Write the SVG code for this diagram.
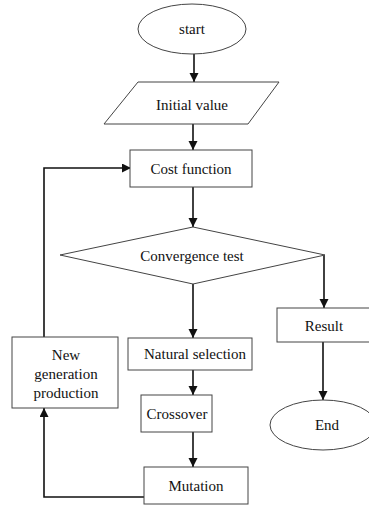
<svg xmlns="http://www.w3.org/2000/svg" width="369" height="507" viewBox="0 0 369 507">
<style>
.shape{fill:#fff;stroke:#444;stroke-width:1}
.lbl{font-family:"Liberation Serif","Times New Roman",serif;font-size:15px;fill:#111;text-anchor:middle}
.conn{fill:none;stroke:#111;stroke-width:1.6}
</style>
<defs>
<marker id="ah" markerUnits="userSpaceOnUse" markerWidth="10" markerHeight="10" refX="9" refY="4.5" orient="auto">
<path d="M0,0 L9,4.5 L0,9 z" fill="#111"/>
</marker>
</defs>
<rect width="369" height="507" fill="#fff"/>
<g id="connectors">
<line class="conn" x1="194" y1="54" x2="194" y2="82" marker-end="url(#ah)"/>
<line class="conn" x1="193" y1="124" x2="193" y2="150" marker-end="url(#ah)"/>
<line class="conn" x1="193" y1="187" x2="193" y2="227" marker-end="url(#ah)"/>
<line class="conn" x1="193" y1="284" x2="193" y2="338" marker-end="url(#ah)"/>
<polyline class="conn" points="324,255 324,308" marker-end="url(#ah)"/>
<line class="conn" x1="323" y1="342" x2="323" y2="400" marker-end="url(#ah)"/>
<line class="conn" x1="193" y1="370" x2="193" y2="395" marker-end="url(#ah)"/>
<line class="conn" x1="193" y1="432" x2="193" y2="467" marker-end="url(#ah)"/>
<polyline class="conn" points="144,497 44,497 44,408" marker-end="url(#ah)"/>
<polyline class="conn" points="44,337 44,168 131,168" marker-end="url(#ah)"/>
</g>
<g id="start">
<ellipse class="shape" cx="192" cy="29" rx="54" ry="25"/>
<text class="lbl" x="192" y="34">start</text>
</g>
<g id="initial">
<polygon class="shape" points="138,82 279,82 248,124 104,124"/>
<text class="lbl" x="192" y="110">Initial value</text>
</g>
<g id="cost">
<rect class="shape" x="130" y="150" width="122" height="37"/>
<text class="lbl" x="191" y="174">Cost function</text>
</g>
<g id="convergence">
<polygon class="shape" points="193,227 325,255 193,284 60,255"/>
<text class="lbl" x="192" y="261">Convergence test</text>
</g>
<g id="result">
<rect class="shape" x="277" y="308" width="95" height="34"/>
<text class="lbl" x="324" y="331">Result</text>
</g>
<g id="end">
<ellipse class="shape" cx="323" cy="425" rx="53" ry="25"/>
<text class="lbl" x="327" y="430">End</text>
</g>
<g id="natural">
<rect class="shape" x="128" y="338" width="124" height="32"/>
<text class="lbl" x="195" y="359">Natural selection</text>
</g>
<g id="crossover">
<rect class="shape" x="141" y="395" width="71" height="37"/>
<text class="lbl" x="177" y="419">Crossover</text>
</g>
<g id="mutation">
<rect class="shape" x="144" y="467" width="104" height="37"/>
<text class="lbl" x="196" y="491">Mutation</text>
</g>
<g id="newgen">
<rect class="shape" x="12" y="337" width="106" height="71"/>
<text class="lbl" x="66" y="360">New</text>
<text class="lbl" x="66" y="379">generation</text>
<text class="lbl" x="66" y="398">production</text>
</g>
</svg>
